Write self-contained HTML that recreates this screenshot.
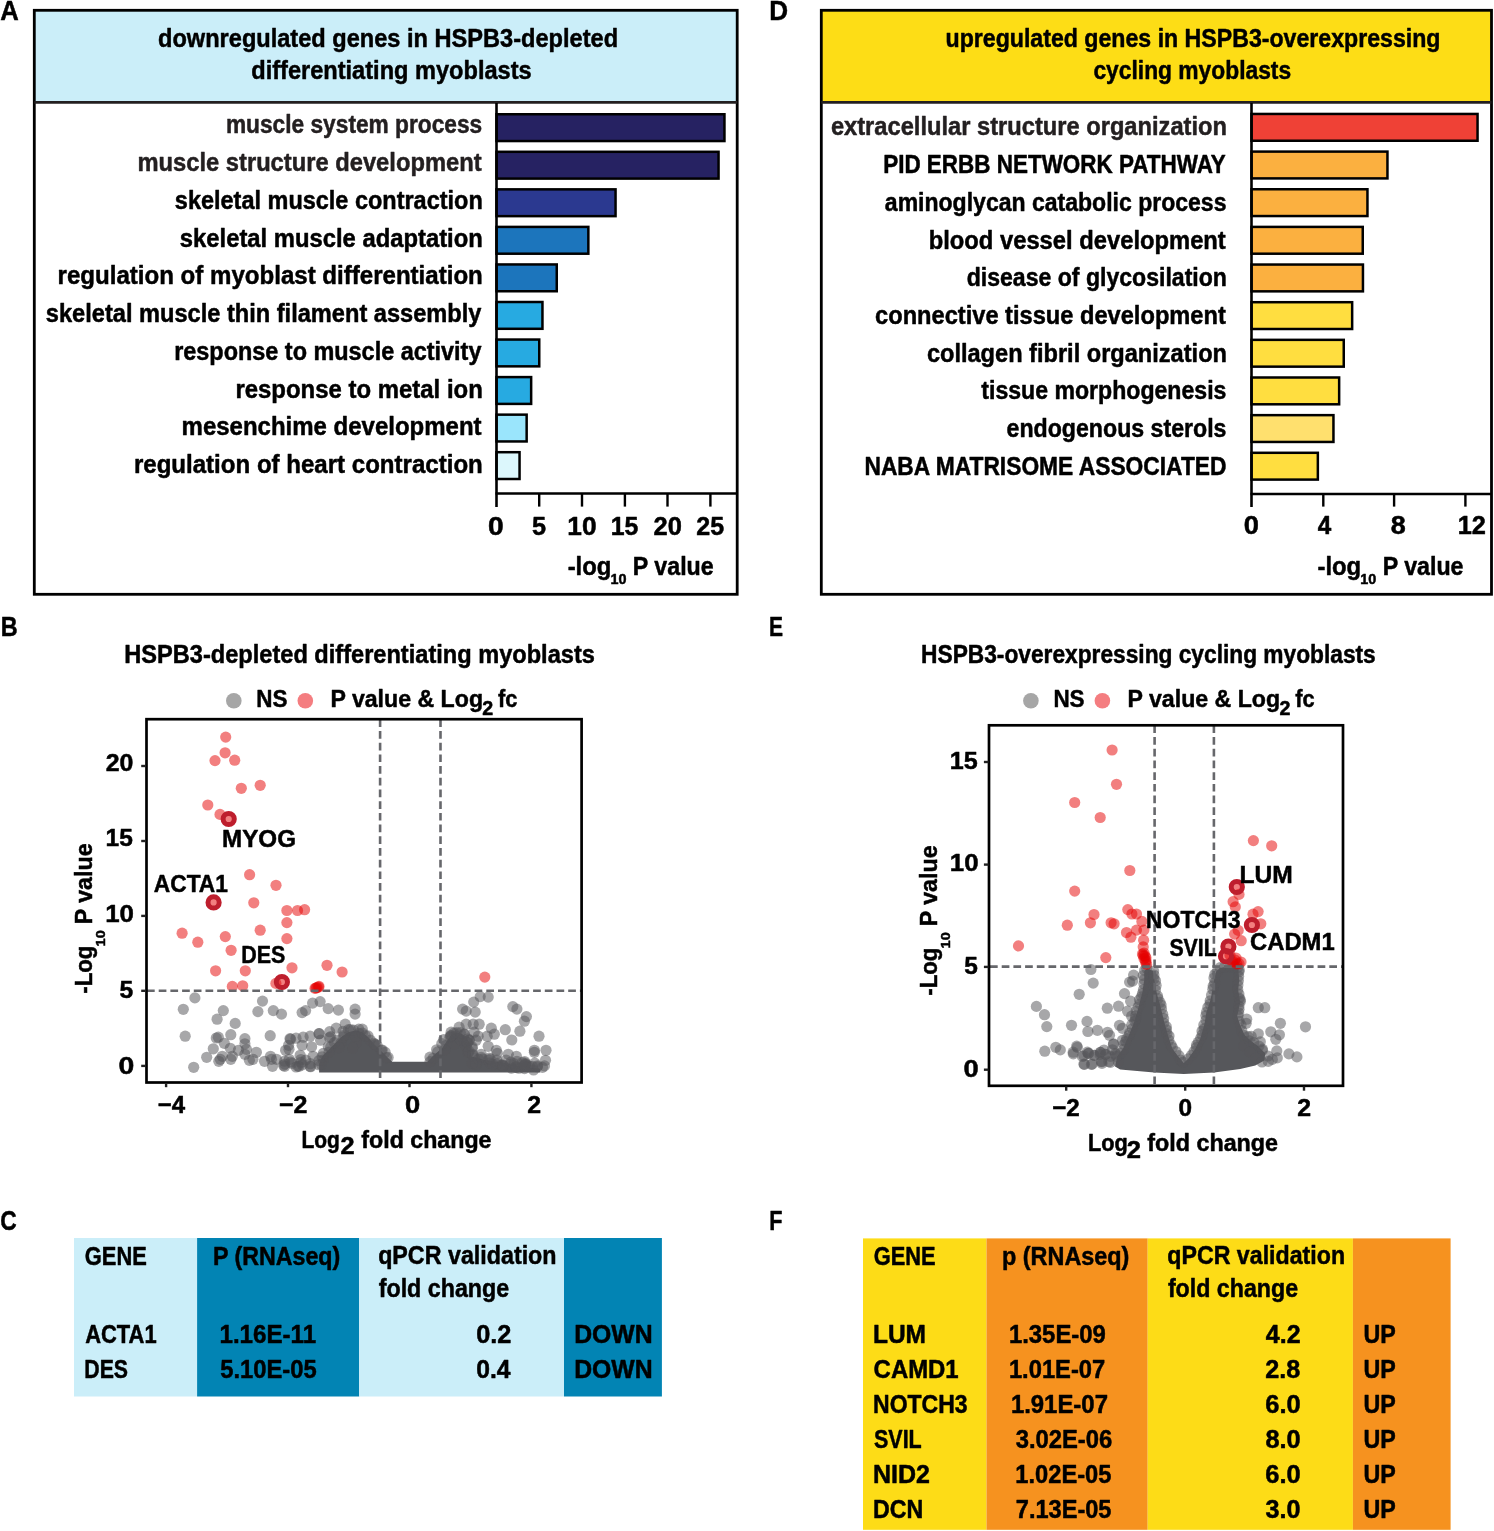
<!DOCTYPE html><html><head><meta charset="utf-8"><style>html,body{margin:0;padding:0;background:#fff;width:1494px;height:1531px;overflow:hidden}svg{display:block;will-change:transform}.t text{font-family:"Liberation Sans",sans-serif;font-weight:bold;stroke:currentColor;stroke-width:0.5px;stroke-linejoin:round}</style></head><body><svg width="1494" height="1531" viewBox="0 0 1494 1531"><rect x="34.3" y="10.3" width="702.9" height="91.9" fill="#CBEEF9"/>
<rect x="820.5" y="10.3" width="671" height="91.9" fill="#FDDD16"/>
<rect x="34.3" y="10.3" width="702.9" height="584" fill="none" stroke="#000" stroke-width="2.8"/>
<line x1="34.3" y1="102.3" x2="737.2" y2="102.3" stroke="#231F20" stroke-width="2.8"/>
<rect x="821.3" y="10.3" width="670.2" height="584" fill="none" stroke="#000" stroke-width="2.8"/>
<line x1="821.3" y1="102.3" x2="1491.5" y2="102.3" stroke="#231F20" stroke-width="2.8"/>
<rect x="496.5" y="114.25" width="227.95" height="26.80" fill="#262262" stroke="#000" stroke-width="2.5"/>
<rect x="496.5" y="151.80" width="222.05" height="26.80" fill="#262262" stroke="#000" stroke-width="2.5"/>
<rect x="496.5" y="189.35" width="119.05" height="26.80" fill="#2B3990" stroke="#000" stroke-width="2.5"/>
<rect x="496.5" y="226.90" width="91.85" height="26.80" fill="#1C75BC" stroke="#000" stroke-width="2.5"/>
<rect x="496.5" y="264.45" width="60.25" height="26.80" fill="#1C75BC" stroke="#000" stroke-width="2.5"/>
<rect x="496.5" y="302.00" width="45.95" height="26.80" fill="#27AAE1" stroke="#000" stroke-width="2.5"/>
<rect x="496.5" y="339.55" width="42.75" height="26.80" fill="#27AAE1" stroke="#000" stroke-width="2.5"/>
<rect x="496.5" y="377.10" width="34.65" height="26.80" fill="#27AAE1" stroke="#000" stroke-width="2.5"/>
<rect x="496.5" y="414.65" width="30.15" height="26.80" fill="#9AE5FC" stroke="#000" stroke-width="2.5"/>
<rect x="496.5" y="452.20" width="23.05" height="26.80" fill="#DCF7FC" stroke="#000" stroke-width="2.5"/>
<rect x="1251.5" y="113.95" width="226.05" height="26.80" fill="#EF4136" stroke="#000" stroke-width="2.5"/>
<rect x="1251.5" y="151.60" width="135.95" height="26.80" fill="#FBB040" stroke="#000" stroke-width="2.5"/>
<rect x="1251.5" y="189.25" width="115.95" height="26.80" fill="#FBB040" stroke="#000" stroke-width="2.5"/>
<rect x="1251.5" y="226.90" width="111.25" height="26.80" fill="#FBB040" stroke="#000" stroke-width="2.5"/>
<rect x="1251.5" y="264.55" width="111.45" height="26.80" fill="#FBB040" stroke="#000" stroke-width="2.5"/>
<rect x="1251.5" y="302.20" width="100.65" height="26.80" fill="#FFDE40" stroke="#000" stroke-width="2.5"/>
<rect x="1251.5" y="339.85" width="92.25" height="26.80" fill="#FFDE40" stroke="#000" stroke-width="2.5"/>
<rect x="1251.5" y="377.50" width="87.65" height="26.80" fill="#FFDE40" stroke="#000" stroke-width="2.5"/>
<rect x="1251.5" y="415.15" width="81.95" height="26.80" fill="#FFE06E" stroke="#000" stroke-width="2.5"/>
<rect x="1251.5" y="452.80" width="66.35" height="26.80" fill="#FFDE40" stroke="#000" stroke-width="2.5"/>
<line x1="496.5" y1="103" x2="496.5" y2="507" stroke="#000" stroke-width="2.6"/>
<line x1="495.5" y1="493.5" x2="737" y2="493.5" stroke="#000" stroke-width="2.6"/>
<line x1="539.2" y1="494" x2="539.2" y2="506.6" stroke="#000" stroke-width="2.4"/>
<line x1="582" y1="494" x2="582" y2="506.6" stroke="#000" stroke-width="2.4"/>
<line x1="624.9" y1="494" x2="624.9" y2="506.6" stroke="#000" stroke-width="2.4"/>
<line x1="667.5" y1="494" x2="667.5" y2="506.6" stroke="#000" stroke-width="2.4"/>
<line x1="710.4" y1="494" x2="710.4" y2="506.6" stroke="#000" stroke-width="2.4"/>
<line x1="1251.5" y1="103" x2="1251.5" y2="507" stroke="#000" stroke-width="2.6"/>
<line x1="1250.5" y1="494" x2="1491" y2="494" stroke="#000" stroke-width="2.6"/>
<line x1="1323.3" y1="494" x2="1323.3" y2="506.6" stroke="#000" stroke-width="2.4"/>
<line x1="1394.1" y1="494" x2="1394.1" y2="506.6" stroke="#000" stroke-width="2.4"/>
<line x1="1465.4" y1="494" x2="1465.4" y2="506.6" stroke="#000" stroke-width="2.4"/>
<circle cx="233.8" cy="700.8" r="7.8" fill="#A6A6A6"/>
<circle cx="305.3" cy="700.8" r="7.8" fill="#F47D80"/>
<circle cx="1030.9" cy="700.8" r="7.8" fill="#A6A6A6"/>
<circle cx="1102.4" cy="700.8" r="7.8" fill="#F47D80"/>
<rect x="74" y="1238" width="123.1" height="158.5" fill="#CBEEF9"/>
<rect x="197.1" y="1238" width="162.1" height="158.5" fill="#0284B4"/>
<rect x="359.2" y="1238" width="204.8" height="158.5" fill="#CBEEF9"/>
<rect x="564" y="1238" width="97.9" height="158.5" fill="#0284B4"/>
<rect x="863" y="1238.4" width="123.5" height="291.4" fill="#FDDC17"/>
<rect x="986.5" y="1238.4" width="161.2" height="291.4" fill="#F6921F"/>
<rect x="1147.7" y="1238.4" width="205.2" height="291.4" fill="#FDDC17"/>
<rect x="1352.9" y="1238.4" width="97.7" height="291.4" fill="#F6921F"/>
<clipPath id="cb"><rect x="147.8" y="720.5" width="432.5" height="360.6"/></clipPath>
<clipPath id="ce"><rect x="990.3" y="726.6" width="351.4" height="357.9"/></clipPath>
<g clip-path="url(#cb)"><polygon points="319.1,1072.4 319.1,1064.3 322.1,1056.3 328.2,1050.3 333.2,1045.3 338.2,1040.2 342.2,1036.2 348.2,1032.2 356.3,1030.2 362.3,1032.2 368.3,1037.2 373.3,1043.3 378.4,1048.3 385.4,1055.3 389.4,1059.3 392.4,1061.8 427.6,1061.8 432.6,1056.3 436.0,1053.3 442.1,1048.3 446.1,1042.2 450.1,1036.2 456.1,1032.2 462.0,1034.0 468.0,1040.0 470.2,1046.0 471.2,1056.3 486.2,1060.3 501.3,1062.3 514.4,1065.3 526.4,1067.3 540.0,1068.4 540.0,1072.4" fill="#56575B"/><g fill="#56575B" fill-opacity="0.52"><circle cx="194.9" cy="997.9" r="5.6"/><circle cx="183.3" cy="1009.3" r="5.6"/><circle cx="185.2" cy="1036.2" r="5.6"/><circle cx="193.7" cy="1067.3" r="5.6"/><circle cx="223.3" cy="1010.6" r="5.6"/><circle cx="217.1" cy="1019.2" r="5.6"/><circle cx="235.2" cy="1023.4" r="5.6"/><circle cx="262.5" cy="1001.1" r="5.6"/><circle cx="257.9" cy="1011.6" r="5.6"/><circle cx="273.3" cy="1010.6" r="5.6"/><circle cx="281.5" cy="1014.1" r="5.6"/><circle cx="270.2" cy="1035.7" r="5.6"/><circle cx="230.8" cy="1034.7" r="5.6"/><circle cx="216.3" cy="1038.0" r="5.6"/><circle cx="218.3" cy="1037.2" r="5.6"/><circle cx="244.9" cy="1038.7" r="5.6"/><circle cx="244.9" cy="1043.8" r="5.6"/><circle cx="224.3" cy="1043.3" r="5.6"/><circle cx="213.3" cy="1048.8" r="5.6"/><circle cx="230.3" cy="1048.3" r="5.6"/><circle cx="238.4" cy="1050.3" r="5.6"/><circle cx="246.4" cy="1049.3" r="5.6"/><circle cx="206.7" cy="1057.3" r="5.6"/><circle cx="222.3" cy="1056.3" r="5.6"/><circle cx="220.3" cy="1059.3" r="5.6"/><circle cx="218.8" cy="1061.3" r="5.6"/><circle cx="230.8" cy="1059.3" r="5.6"/><circle cx="232.3" cy="1056.3" r="5.6"/><circle cx="244.9" cy="1054.3" r="5.6"/><circle cx="256.4" cy="1052.3" r="5.6"/><circle cx="249.4" cy="1060.3" r="5.6"/><circle cx="252.9" cy="1059.3" r="5.6"/><circle cx="264.5" cy="1061.3" r="5.6"/><circle cx="270.5" cy="1056.3" r="5.6"/><circle cx="271.5" cy="1059.3" r="5.6"/><circle cx="272.5" cy="1066.3" r="5.6"/><circle cx="276.5" cy="1059.3" r="5.6"/><circle cx="283.5" cy="1065.3" r="5.6"/><circle cx="285.6" cy="1050.3" r="5.6"/><circle cx="290.6" cy="1039.2" r="5.6"/><circle cx="288.6" cy="1045.3" r="5.6"/><circle cx="312.6" cy="1003.1" r="5.6"/><circle cx="320.1" cy="1001.6" r="5.6"/><circle cx="302.1" cy="1012.6" r="5.6"/><circle cx="305.6" cy="1010.6" r="5.6"/><circle cx="328.2" cy="1008.6" r="5.6"/><circle cx="338.4" cy="1010.1" r="5.6"/><circle cx="355.1" cy="1009.1" r="5.6"/><circle cx="355.1" cy="1014.1" r="5.6"/><circle cx="345.2" cy="1024.2" r="5.6"/><circle cx="336.2" cy="1028.2" r="5.6"/><circle cx="358.8" cy="1029.2" r="5.6"/><circle cx="362.3" cy="1029.2" r="5.6"/><circle cx="319.1" cy="1033.7" r="5.6"/><circle cx="319.1" cy="1033.7" r="5.6"/><circle cx="330.7" cy="1036.7" r="5.6"/><circle cx="310.1" cy="1036.2" r="5.6"/><circle cx="303.1" cy="1037.2" r="5.6"/><circle cx="296.0" cy="1038.2" r="5.6"/><circle cx="290.0" cy="1038.7" r="5.6"/><circle cx="320.6" cy="1040.2" r="5.6"/><circle cx="311.6" cy="1046.8" r="5.6"/><circle cx="302.1" cy="1045.3" r="5.6"/><circle cx="289.0" cy="1049.3" r="5.6"/><circle cx="313.1" cy="1056.3" r="5.6"/><circle cx="300.1" cy="1055.3" r="5.6"/><circle cx="292.0" cy="1063.3" r="5.6"/><circle cx="299.0" cy="1066.3" r="5.6"/><circle cx="310.1" cy="1066.3" r="5.6"/><circle cx="301.1" cy="1062.3" r="5.6"/><circle cx="370.3" cy="1040.2" r="5.6"/><circle cx="381.4" cy="1050.3" r="5.6"/><circle cx="480.2" cy="996.6" r="5.6"/><circle cx="488.2" cy="997.1" r="5.6"/><circle cx="473.7" cy="1002.1" r="5.6"/><circle cx="462.6" cy="1009.1" r="5.6"/><circle cx="466.2" cy="1011.1" r="5.6"/><circle cx="475.2" cy="1012.1" r="5.6"/><circle cx="512.8" cy="1006.6" r="5.6"/><circle cx="516.9" cy="1009.1" r="5.6"/><circle cx="526.4" cy="1016.6" r="5.6"/><circle cx="524.4" cy="1021.2" r="5.6"/><circle cx="505.3" cy="1029.7" r="5.6"/><circle cx="519.9" cy="1031.2" r="5.6"/><circle cx="511.8" cy="1040.0" r="5.6"/><circle cx="539.0" cy="1036.2" r="5.6"/><circle cx="491.3" cy="1028.2" r="5.6"/><circle cx="494.3" cy="1034.2" r="5.6"/><circle cx="487.2" cy="1036.2" r="5.6"/><circle cx="488.2" cy="1046.3" r="5.6"/><circle cx="496.3" cy="1050.3" r="5.6"/><circle cx="497.3" cy="1053.3" r="5.6"/><circle cx="534.4" cy="1050.3" r="5.6"/><circle cx="534.4" cy="1052.3" r="5.6"/><circle cx="546.0" cy="1050.3" r="5.6"/><circle cx="508.3" cy="1054.3" r="5.6"/><circle cx="516.4" cy="1056.3" r="5.6"/><circle cx="545.5" cy="1060.3" r="5.6"/><circle cx="481.2" cy="1054.3" r="5.6"/><circle cx="481.2" cy="1057.3" r="5.6"/><circle cx="525.4" cy="1064.3" r="5.6"/><circle cx="532.4" cy="1066.3" r="5.6"/><circle cx="542.5" cy="1067.3" r="5.6"/><circle cx="516.4" cy="1067.3" r="5.6"/><circle cx="459.1" cy="1027.2" r="5.6"/><circle cx="466.2" cy="1024.2" r="5.6"/><circle cx="473.2" cy="1024.2" r="5.6"/><circle cx="479.2" cy="1024.2" r="5.6"/><circle cx="451.1" cy="1032.2" r="5.6"/><circle cx="456.1" cy="1036.2" r="5.6"/><circle cx="464.2" cy="1034.2" r="5.6"/><circle cx="474.2" cy="1032.2" r="5.6"/><circle cx="478.2" cy="1036.2" r="5.6"/><circle cx="461.1" cy="1040.2" r="5.6"/><circle cx="469.2" cy="1040.2" r="5.6"/><circle cx="476.2" cy="1040.2" r="5.6"/><circle cx="446.1" cy="1045.3" r="5.6"/><circle cx="454.1" cy="1044.3" r="5.6"/><circle cx="466.2" cy="1046.3" r="5.6"/><circle cx="472.2" cy="1048.3" r="5.6"/><circle cx="464.2" cy="1034.2" r="5.6"/><circle cx="466.2" cy="1046.3" r="5.6"/><circle cx="461.1" cy="1040.2" r="5.6"/><circle cx="469.2" cy="1040.2" r="5.6"/><circle cx="318.8" cy="1064.7" r="5.6"/><circle cx="323.1" cy="1060.1" r="5.6"/><circle cx="322.1" cy="1056.8" r="5.6"/><circle cx="323.3" cy="1053.4" r="5.6"/><circle cx="329.0" cy="1052.1" r="5.6"/><circle cx="328.3" cy="1046.6" r="5.6"/><circle cx="330.7" cy="1047.2" r="5.6"/><circle cx="336.9" cy="1040.0" r="5.6"/><circle cx="341.1" cy="1043.0" r="5.6"/><circle cx="343.1" cy="1036.9" r="5.6"/><circle cx="343.1" cy="1031.3" r="5.6"/><circle cx="348.4" cy="1029.6" r="5.6"/><circle cx="350.4" cy="1029.7" r="5.6"/><circle cx="353.5" cy="1030.0" r="5.6"/><circle cx="358.9" cy="1033.3" r="5.6"/><circle cx="362.4" cy="1033.0" r="5.6"/><circle cx="365.3" cy="1035.7" r="5.6"/><circle cx="368.0" cy="1035.9" r="5.6"/><circle cx="373.8" cy="1043.2" r="5.6"/><circle cx="375.3" cy="1044.5" r="5.6"/><circle cx="374.7" cy="1044.2" r="5.6"/><circle cx="377.1" cy="1045.7" r="5.6"/><circle cx="382.3" cy="1050.0" r="5.6"/><circle cx="385.1" cy="1052.3" r="5.6"/><circle cx="388.1" cy="1057.4" r="5.6"/><circle cx="386.4" cy="1057.6" r="5.6"/><circle cx="430.1" cy="1061.6" r="5.6"/><circle cx="433.0" cy="1058.4" r="5.6"/><circle cx="430.0" cy="1057.1" r="5.6"/><circle cx="437.7" cy="1051.9" r="5.6"/><circle cx="436.6" cy="1049.8" r="5.6"/><circle cx="444.9" cy="1049.8" r="5.6"/><circle cx="441.8" cy="1043.7" r="5.6"/><circle cx="443.7" cy="1039.6" r="5.6"/><circle cx="449.9" cy="1037.3" r="5.6"/><circle cx="450.5" cy="1035.9" r="5.6"/><circle cx="451.2" cy="1035.6" r="5.6"/><circle cx="453.9" cy="1033.1" r="5.6"/><circle cx="456.7" cy="1032.6" r="5.6"/><circle cx="460.3" cy="1032.6" r="5.6"/><circle cx="467.8" cy="1038.8" r="5.6"/><circle cx="466.8" cy="1042.3" r="5.6"/><circle cx="467.4" cy="1042.4" r="5.6"/><circle cx="472.3" cy="1046.9" r="5.6"/><circle cx="468.1" cy="1052.4" r="5.6"/><circle cx="469.1" cy="1051.4" r="5.6"/><circle cx="472.8" cy="1055.3" r="5.6"/><circle cx="473.0" cy="1054.5" r="5.6"/><circle cx="474.7" cy="1058.4" r="5.6"/><circle cx="478.7" cy="1059.3" r="5.6"/><circle cx="482.4" cy="1059.2" r="5.6"/><circle cx="489.0" cy="1060.2" r="5.6"/><circle cx="489.7" cy="1062.9" r="5.6"/><circle cx="490.3" cy="1059.0" r="5.6"/><circle cx="497.7" cy="1063.4" r="5.6"/><circle cx="496.8" cy="1060.0" r="5.6"/><circle cx="502.7" cy="1064.9" r="5.6"/><circle cx="502.8" cy="1065.8" r="5.6"/><circle cx="510.1" cy="1064.4" r="5.6"/><circle cx="510.7" cy="1062.2" r="5.6"/><circle cx="511.6" cy="1068.1" r="5.6"/><circle cx="515.8" cy="1067.0" r="5.6"/><circle cx="518.9" cy="1068.2" r="5.6"/><circle cx="524.0" cy="1065.6" r="5.6"/><circle cx="524.5" cy="1068.6" r="5.6"/><circle cx="527.2" cy="1065.9" r="5.6"/><circle cx="533.6" cy="1070.0" r="5.6"/><circle cx="537.3" cy="1066.8" r="5.6"/><circle cx="318.9" cy="1060.6" r="5.6"/><circle cx="284.6" cy="1061.2" r="5.6"/><circle cx="300.9" cy="1059.5" r="5.6"/><circle cx="290.7" cy="1062.0" r="5.6"/><circle cx="305.7" cy="1060.1" r="5.6"/><circle cx="297.8" cy="1066.1" r="5.6"/><circle cx="321.3" cy="1064.3" r="5.6"/><circle cx="310.3" cy="1063.7" r="5.6"/><circle cx="289.3" cy="1059.3" r="5.6"/><circle cx="284.7" cy="1066.3" r="5.6"/><circle cx="310.6" cy="1066.7" r="5.6"/><circle cx="284.8" cy="1064.1" r="5.6"/><circle cx="302.3" cy="1064.8" r="5.6"/><circle cx="296.1" cy="1067.0" r="5.6"/><circle cx="475.6" cy="1062.9" r="5.6"/><circle cx="525.3" cy="1066.1" r="5.6"/><circle cx="525.3" cy="1064.3" r="5.6"/><circle cx="529.5" cy="1066.2" r="5.6"/><circle cx="496.4" cy="1064.2" r="5.6"/><circle cx="537.6" cy="1065.8" r="5.6"/><circle cx="501.3" cy="1065.1" r="5.6"/><circle cx="534.8" cy="1063.2" r="5.6"/><circle cx="516.9" cy="1061.4" r="5.6"/><circle cx="513.7" cy="1063.5" r="5.6"/><circle cx="476.0" cy="1063.8" r="5.6"/><circle cx="544.5" cy="1065.9" r="5.6"/><circle cx="524.6" cy="1061.5" r="5.6"/><circle cx="525.1" cy="1063.2" r="5.6"/><circle cx="503.0" cy="1065.5" r="5.6"/><circle cx="476.3" cy="1064.8" r="5.6"/><circle cx="472.2" cy="1063.4" r="5.6"/><circle cx="506.1" cy="1060.1" r="5.6"/><circle cx="522.4" cy="1062.5" r="5.6"/><circle cx="516.1" cy="1066.3" r="5.6"/><circle cx="489.2" cy="1058.1" r="5.6"/><circle cx="492.6" cy="1064.1" r="5.6"/><circle cx="329.7" cy="1031.7" r="5.6"/><circle cx="356.4" cy="1042.5" r="5.6"/><circle cx="338.8" cy="1047.6" r="5.6"/><circle cx="334.4" cy="1042.6" r="5.6"/><circle cx="329.5" cy="1037.5" r="5.6"/><circle cx="352.6" cy="1048.1" r="5.6"/><circle cx="355.5" cy="1036.5" r="5.6"/><circle cx="344.2" cy="1035.0" r="5.6"/></g></g>
<g clip-path="url(#ce)"><polygon points="1115.1,1066.4 1117.1,1056.4 1123.1,1048.4 1130.1,1032.3 1134.1,1022.2 1138.2,1008.2 1142.2,993.1 1144.2,980.1 1144.2,971.0 1147.2,968.5 1153.2,971.0 1155.2,985.1 1157.2,995.1 1160.2,1005.2 1164.3,1022.2 1168.3,1036.3 1172.3,1048.4 1178.3,1056.4 1183.8,1062.9 1188.4,1058.4 1195.4,1048.4 1200.4,1038.3 1204.4,1024.3 1206.4,1012.2 1210.4,1000.2 1212.4,990.1 1214.5,978.1 1216.5,971.0 1220.1,968.0 1225.1,967.0 1238.2,968.0 1239.2,980.1 1238.2,990.1 1240.2,1002.2 1237.2,1016.2 1240.2,1025.3 1244.2,1034.3 1250.2,1040.3 1258.3,1046.3 1265.3,1053.4 1264.3,1060.4 1255.3,1065.4 1240.2,1068.9 1214.1,1072.4 1183.8,1074.0 1154.2,1072.4 1120.1,1069.4" fill="#56575B"/><g fill="#56575B" fill-opacity="0.52"><circle cx="1090.9" cy="969.5" r="5.6"/><circle cx="1093.2" cy="983.1" r="5.6"/><circle cx="1079.2" cy="994.3" r="5.6"/><circle cx="1036.4" cy="1006.4" r="5.6"/><circle cx="1044.5" cy="1014.7" r="5.6"/><circle cx="1046.8" cy="1026.6" r="5.6"/><circle cx="1071.5" cy="1025.3" r="5.6"/><circle cx="1087.0" cy="1021.4" r="5.6"/><circle cx="1087.9" cy="1031.5" r="5.6"/><circle cx="1097.4" cy="1030.3" r="5.6"/><circle cx="1107.3" cy="1008.2" r="5.6"/><circle cx="1118.5" cy="1006.2" r="5.6"/><circle cx="1124.5" cy="993.6" r="5.6"/><circle cx="1133.6" cy="975.1" r="5.6"/><circle cx="1129.6" cy="982.1" r="5.6"/><circle cx="1132.6" cy="981.1" r="5.6"/><circle cx="1130.6" cy="1001.2" r="5.6"/><circle cx="1127.6" cy="1011.2" r="5.6"/><circle cx="1131.6" cy="1016.2" r="5.6"/><circle cx="1107.5" cy="1032.3" r="5.6"/><circle cx="1109.5" cy="1035.3" r="5.6"/><circle cx="1119.5" cy="1025.3" r="5.6"/><circle cx="1122.5" cy="1028.3" r="5.6"/><circle cx="1122.5" cy="1040.3" r="5.6"/><circle cx="1113.5" cy="1044.3" r="5.6"/><circle cx="1044.8" cy="1051.2" r="5.6"/><circle cx="1055.8" cy="1047.3" r="5.6"/><circle cx="1060.3" cy="1049.9" r="5.6"/><circle cx="1073.3" cy="1053.9" r="5.6"/><circle cx="1077.3" cy="1047.3" r="5.6"/><circle cx="1084.4" cy="1064.4" r="5.6"/><circle cx="1091.4" cy="1064.4" r="5.6"/><circle cx="1082.4" cy="1056.4" r="5.6"/><circle cx="1088.4" cy="1053.4" r="5.6"/><circle cx="1094.4" cy="1055.4" r="5.6"/><circle cx="1100.4" cy="1052.4" r="5.6"/><circle cx="1105.5" cy="1054.4" r="5.6"/><circle cx="1110.5" cy="1056.4" r="5.6"/><circle cx="1115.5" cy="1053.4" r="5.6"/><circle cx="1101.4" cy="1061.4" r="5.6"/><circle cx="1110.5" cy="1062.4" r="5.6"/><circle cx="1100.0" cy="1054.4" r="5.6"/><circle cx="1104.0" cy="1050.0" r="5.6"/><circle cx="1102.0" cy="1063.4" r="5.6"/><circle cx="1073.2" cy="1052.2" r="5.6"/><circle cx="1076.7" cy="1046.2" r="5.6"/><circle cx="1083.9" cy="1055.8" r="5.6"/><circle cx="1087.4" cy="1052.2" r="5.6"/><circle cx="1092.2" cy="1064.1" r="5.6"/><circle cx="1083.9" cy="1064.1" r="5.6"/><circle cx="1101.7" cy="1061.7" r="5.6"/><circle cx="1108.8" cy="1061.7" r="5.6"/><circle cx="1112.4" cy="1049.8" r="5.6"/><circle cx="1116.0" cy="1054.6" r="5.6"/><circle cx="1118.3" cy="1061.7" r="5.6"/><circle cx="1113.6" cy="1043.9" r="5.6"/><circle cx="1088.4" cy="1053.4" r="5.6"/><circle cx="1094.4" cy="1055.4" r="5.6"/><circle cx="1100.4" cy="1052.4" r="5.6"/><circle cx="1105.5" cy="1054.4" r="5.6"/><circle cx="1258.3" cy="1007.7" r="5.6"/><circle cx="1264.8" cy="1007.7" r="5.6"/><circle cx="1246.7" cy="1019.2" r="5.6"/><circle cx="1246.2" cy="1023.3" r="5.6"/><circle cx="1280.4" cy="1023.3" r="5.6"/><circle cx="1305.5" cy="1026.8" r="5.6"/><circle cx="1270.8" cy="1031.8" r="5.6"/><circle cx="1279.4" cy="1034.8" r="5.6"/><circle cx="1275.8" cy="1039.3" r="5.6"/><circle cx="1258.3" cy="1033.8" r="5.6"/><circle cx="1260.3" cy="1041.8" r="5.6"/><circle cx="1251.2" cy="1036.3" r="5.6"/><circle cx="1288.9" cy="1053.9" r="5.6"/><circle cx="1296.9" cy="1056.9" r="5.6"/><circle cx="1276.8" cy="1050.9" r="5.6"/><circle cx="1277.3" cy="1057.9" r="5.6"/><circle cx="1268.3" cy="1061.4" r="5.6"/><circle cx="1272.3" cy="1059.4" r="5.6"/><circle cx="1262.3" cy="1050.4" r="5.6"/><circle cx="1240.2" cy="999.7" r="5.6"/><circle cx="1239.2" cy="970.0" r="5.6"/><circle cx="1244.0" cy="1046.0" r="5.6"/><circle cx="1250.0" cy="1052.0" r="5.6"/><circle cx="1256.0" cy="1058.0" r="5.6"/><circle cx="1262.0" cy="1062.0" r="5.6"/><circle cx="1268.0" cy="1056.0" r="5.6"/><circle cx="1116.4" cy="1056.4" r="5.6"/><circle cx="1120.8" cy="1053.1" r="5.6"/><circle cx="1123.5" cy="1049.3" r="5.6"/><circle cx="1124.1" cy="1044.5" r="5.6"/><circle cx="1125.8" cy="1041.5" r="5.6"/><circle cx="1126.7" cy="1038.6" r="5.6"/><circle cx="1129.0" cy="1035.5" r="5.6"/><circle cx="1129.7" cy="1033.0" r="5.6"/><circle cx="1132.4" cy="1028.8" r="5.6"/><circle cx="1131.9" cy="1024.6" r="5.6"/><circle cx="1134.8" cy="1021.3" r="5.6"/><circle cx="1135.5" cy="1018.8" r="5.6"/><circle cx="1135.8" cy="1015.8" r="5.6"/><circle cx="1136.2" cy="1011.0" r="5.6"/><circle cx="1138.1" cy="1007.2" r="5.6"/><circle cx="1139.9" cy="1003.9" r="5.6"/><circle cx="1139.5" cy="999.7" r="5.6"/><circle cx="1141.5" cy="996.8" r="5.6"/><circle cx="1142.5" cy="993.4" r="5.6"/><circle cx="1143.5" cy="989.7" r="5.6"/><circle cx="1143.9" cy="983.8" r="5.6"/><circle cx="1144.2" cy="979.5" r="5.6"/><circle cx="1143.2" cy="975.5" r="5.6"/><circle cx="1144.6" cy="970.4" r="5.6"/><circle cx="1146.7" cy="968.2" r="5.6"/><circle cx="1153.6" cy="971.0" r="5.6"/><circle cx="1153.9" cy="975.0" r="5.6"/><circle cx="1154.0" cy="978.6" r="5.6"/><circle cx="1155.5" cy="980.7" r="5.6"/><circle cx="1156.1" cy="985.5" r="5.6"/><circle cx="1155.5" cy="990.0" r="5.6"/><circle cx="1157.5" cy="995.9" r="5.6"/><circle cx="1158.0" cy="998.6" r="5.6"/><circle cx="1160.0" cy="1002.4" r="5.6"/><circle cx="1161.1" cy="1005.1" r="5.6"/><circle cx="1161.5" cy="1008.9" r="5.6"/><circle cx="1162.7" cy="1014.3" r="5.6"/><circle cx="1163.6" cy="1018.4" r="5.6"/><circle cx="1163.7" cy="1023.0" r="5.6"/><circle cx="1166.3" cy="1026.7" r="5.6"/><circle cx="1166.4" cy="1029.8" r="5.6"/><circle cx="1166.9" cy="1033.6" r="5.6"/><circle cx="1169.0" cy="1036.0" r="5.6"/><circle cx="1168.8" cy="1040.2" r="5.6"/><circle cx="1171.1" cy="1044.9" r="5.6"/><circle cx="1172.3" cy="1047.5" r="5.6"/><circle cx="1175.9" cy="1051.5" r="5.6"/><circle cx="1178.9" cy="1055.7" r="5.6"/><circle cx="1180.7" cy="1060.2" r="5.6"/><circle cx="1183.1" cy="1062.2" r="5.6"/><circle cx="1188.4" cy="1058.8" r="5.6"/><circle cx="1191.4" cy="1055.4" r="5.6"/><circle cx="1194.0" cy="1051.7" r="5.6"/><circle cx="1196.3" cy="1047.6" r="5.6"/><circle cx="1196.5" cy="1045.1" r="5.6"/><circle cx="1198.3" cy="1042.1" r="5.6"/><circle cx="1200.7" cy="1038.3" r="5.6"/><circle cx="1202.1" cy="1034.9" r="5.6"/><circle cx="1202.0" cy="1031.1" r="5.6"/><circle cx="1204.1" cy="1028.6" r="5.6"/><circle cx="1203.8" cy="1025.0" r="5.6"/><circle cx="1206.0" cy="1020.3" r="5.6"/><circle cx="1205.9" cy="1015.6" r="5.6"/><circle cx="1206.5" cy="1012.2" r="5.6"/><circle cx="1207.9" cy="1007.3" r="5.6"/><circle cx="1210.0" cy="1004.2" r="5.6"/><circle cx="1210.2" cy="1000.8" r="5.6"/><circle cx="1211.5" cy="995.1" r="5.6"/><circle cx="1212.8" cy="989.2" r="5.6"/><circle cx="1213.2" cy="985.9" r="5.6"/><circle cx="1214.7" cy="982.9" r="5.6"/><circle cx="1214.0" cy="978.0" r="5.6"/><circle cx="1214.8" cy="974.4" r="5.6"/><circle cx="1217.1" cy="971.8" r="5.6"/><circle cx="1220.1" cy="967.6" r="5.6"/><circle cx="1224.5" cy="967.2" r="5.6"/><circle cx="1230.3" cy="966.6" r="5.6"/><circle cx="1234.4" cy="966.7" r="5.6"/><circle cx="1237.6" cy="967.5" r="5.6"/><circle cx="1238.9" cy="971.7" r="5.6"/><circle cx="1238.6" cy="976.3" r="5.6"/><circle cx="1238.4" cy="980.6" r="5.6"/><circle cx="1237.9" cy="985.1" r="5.6"/><circle cx="1237.7" cy="989.5" r="5.6"/><circle cx="1238.9" cy="994.0" r="5.6"/><circle cx="1239.3" cy="998.0" r="5.6"/><circle cx="1240.3" cy="1001.5" r="5.6"/><circle cx="1238.9" cy="1006.0" r="5.6"/><circle cx="1239.0" cy="1009.3" r="5.6"/><circle cx="1238.7" cy="1012.9" r="5.6"/><circle cx="1237.9" cy="1015.7" r="5.6"/><circle cx="1239.2" cy="1021.4" r="5.6"/><circle cx="1241.0" cy="1024.9" r="5.6"/><circle cx="1241.8" cy="1030.6" r="5.6"/><circle cx="1243.6" cy="1035.3" r="5.6"/><circle cx="1248.0" cy="1036.6" r="5.6"/><circle cx="1249.7" cy="1040.8" r="5.6"/><circle cx="1253.8" cy="1042.5" r="5.6"/><circle cx="1259.0" cy="1046.1" r="5.6"/><circle cx="1262.4" cy="1049.1" r="5.6"/></g></g>
<g fill="#E60000" fill-opacity="0.5"><circle cx="225.7" cy="737.1" r="5.6"/><circle cx="225.1" cy="752.8" r="5.6"/><circle cx="215.0" cy="760.6" r="5.6"/><circle cx="234.7" cy="760.2" r="5.6"/><circle cx="241.3" cy="788.3" r="5.6"/><circle cx="260.2" cy="785.3" r="5.6"/><circle cx="207.8" cy="805.0" r="5.6"/><circle cx="220.0" cy="814.4" r="5.6"/><circle cx="228.7" cy="819.0" r="5.6"/><circle cx="249.6" cy="874.7" r="5.6"/><circle cx="276.0" cy="885.3" r="5.6"/><circle cx="213.6" cy="902.4" r="5.6"/><circle cx="253.8" cy="902.8" r="5.6"/><circle cx="286.9" cy="910.5" r="5.6"/><circle cx="297.5" cy="910.5" r="5.6"/><circle cx="304.6" cy="909.7" r="5.6"/><circle cx="286.9" cy="922.6" r="5.6"/><circle cx="260.2" cy="930.2" r="5.6"/><circle cx="182.1" cy="933.2" r="5.6"/><circle cx="197.8" cy="942.2" r="5.6"/><circle cx="225.3" cy="936.6" r="5.6"/><circle cx="286.9" cy="938.6" r="5.6"/><circle cx="231.1" cy="950.3" r="5.6"/><circle cx="292.0" cy="967.8" r="5.6"/><circle cx="215.6" cy="970.8" r="5.6"/><circle cx="245.3" cy="970.8" r="5.6"/><circle cx="327.0" cy="965.3" r="5.6"/><circle cx="342.1" cy="972.0" r="5.6"/><circle cx="232.3" cy="986.4" r="5.6"/><circle cx="242.7" cy="985.8" r="5.6"/><circle cx="281.9" cy="982.0" r="5.6"/><circle cx="275.9" cy="983.4" r="5.6"/><circle cx="315.0" cy="988.4" r="5.6"/><circle cx="319.0" cy="986.4" r="5.6"/><circle cx="317.0" cy="987.5" r="5.6"/><circle cx="316.0" cy="988.0" r="5.6"/><circle cx="318.5" cy="987.0" r="5.6"/><circle cx="484.8" cy="977.1" r="5.6"/></g>
<g fill="#E60000" fill-opacity="0.5"><circle cx="1112.1" cy="750.0" r="5.6"/><circle cx="1116.5" cy="784.3" r="5.6"/><circle cx="1074.7" cy="802.5" r="5.6"/><circle cx="1100.2" cy="817.5" r="5.6"/><circle cx="1129.8" cy="870.5" r="5.6"/><circle cx="1074.7" cy="891.1" r="5.6"/><circle cx="1253.4" cy="840.6" r="5.6"/><circle cx="1271.7" cy="845.8" r="5.6"/><circle cx="1018.5" cy="945.9" r="5.6"/><circle cx="1067.3" cy="925.2" r="5.6"/><circle cx="1094.0" cy="914.5" r="5.6"/><circle cx="1090.4" cy="922.8" r="5.6"/><circle cx="1111.1" cy="922.8" r="5.6"/><circle cx="1114.1" cy="923.8" r="5.6"/><circle cx="1127.8" cy="909.6" r="5.6"/><circle cx="1131.9" cy="914.0" r="5.6"/><circle cx="1136.5" cy="914.0" r="5.6"/><circle cx="1141.9" cy="921.4" r="5.6"/><circle cx="1126.5" cy="932.5" r="5.6"/><circle cx="1130.9" cy="937.2" r="5.6"/><circle cx="1136.5" cy="930.1" r="5.6"/><circle cx="1143.9" cy="930.1" r="5.6"/><circle cx="1143.6" cy="940.2" r="5.6"/><circle cx="1143.2" cy="946.9" r="5.6"/><circle cx="1143.2" cy="955.6" r="5.6"/><circle cx="1145.9" cy="957.6" r="5.6"/><circle cx="1144.0" cy="953.0" r="5.6"/><circle cx="1146.6" cy="964.3" r="5.6"/><circle cx="1142.5" cy="954.0" r="5.6"/><circle cx="1145.0" cy="956.0" r="5.6"/><circle cx="1144.0" cy="958.5" r="5.6"/><circle cx="1146.0" cy="960.5" r="5.6"/><circle cx="1145.5" cy="962.0" r="5.6"/><circle cx="1105.8" cy="957.6" r="5.6"/><circle cx="1239.0" cy="894.4" r="5.6"/><circle cx="1233.1" cy="901.7" r="5.6"/><circle cx="1235.3" cy="906.9" r="5.6"/><circle cx="1253.0" cy="914.2" r="5.6"/><circle cx="1258.1" cy="911.6" r="5.6"/><circle cx="1260.8" cy="923.8" r="5.6"/><circle cx="1238.2" cy="930.4" r="5.6"/><circle cx="1234.6" cy="934.1" r="5.6"/><circle cx="1241.2" cy="940.7" r="5.6"/><circle cx="1233.0" cy="961.4" r="5.6"/><circle cx="1239.0" cy="963.6" r="5.6"/><circle cx="1236.0" cy="958.0" r="5.6"/><circle cx="1230.0" cy="955.0" r="5.6"/><circle cx="1232.0" cy="962.0" r="5.6"/><circle cx="1237.0" cy="964.0" r="5.6"/><circle cx="1241.0" cy="962.0" r="5.6"/><circle cx="1235.0" cy="960.0" r="5.6"/><circle cx="1236.8" cy="887.0" r="5.6"/><circle cx="1251.9" cy="925.0" r="5.6"/><circle cx="1228.4" cy="946.6" r="5.6"/><circle cx="1226.0" cy="956.2" r="5.6"/></g>
<line x1="380.1" y1="719.3" x2="380.1" y2="1082" stroke="#66676B" stroke-width="2.6" stroke-dasharray="7.7 4"/>
<line x1="440.5" y1="719.3" x2="440.5" y2="1082" stroke="#66676B" stroke-width="2.6" stroke-dasharray="7.7 4"/>
<line x1="147" y1="990.8" x2="581" y2="990.8" stroke="#66676B" stroke-width="2.6" stroke-dasharray="7.7 4"/>
<rect x="146.5" y="719.2" width="435.1" height="363.3" fill="none" stroke="#000" stroke-width="2.7"/>
<line x1="141.2" y1="1065.9" x2="146" y2="1065.9" stroke="#222" stroke-width="2.4"/>
<line x1="141.2" y1="990.8" x2="146" y2="990.8" stroke="#222" stroke-width="2.4"/>
<line x1="141.2" y1="915.9" x2="146" y2="915.9" stroke="#222" stroke-width="2.4"/>
<line x1="141.2" y1="841" x2="146" y2="841" stroke="#222" stroke-width="2.4"/>
<line x1="141.2" y1="766" x2="146" y2="766" stroke="#222" stroke-width="2.4"/>
<line x1="166.1" y1="1083" x2="166.1" y2="1087.2" stroke="#222" stroke-width="2.4"/>
<line x1="288" y1="1083" x2="288" y2="1087.2" stroke="#222" stroke-width="2.4"/>
<line x1="409.5" y1="1083" x2="409.5" y2="1087.2" stroke="#222" stroke-width="2.4"/>
<line x1="531.4" y1="1083" x2="531.4" y2="1087.2" stroke="#222" stroke-width="2.4"/>
<line x1="1154.6" y1="725.4" x2="1154.6" y2="1085.5" stroke="#66676B" stroke-width="2.6" stroke-dasharray="7.7 4"/>
<line x1="1213.9" y1="725.4" x2="1213.9" y2="1085.5" stroke="#66676B" stroke-width="2.6" stroke-dasharray="7.7 4"/>
<line x1="990" y1="966.6" x2="1342.5" y2="966.6" stroke="#66676B" stroke-width="2.6" stroke-dasharray="7.7 4"/>
<rect x="989" y="725.3" width="354" height="360.5" fill="none" stroke="#000" stroke-width="2.7"/>
<line x1="983.9" y1="1069.7" x2="988.5" y2="1069.7" stroke="#222" stroke-width="2.4"/>
<line x1="983.9" y1="966.9" x2="988.5" y2="966.9" stroke="#222" stroke-width="2.4"/>
<line x1="983.9" y1="864.6" x2="988.5" y2="864.6" stroke="#222" stroke-width="2.4"/>
<line x1="983.9" y1="762" x2="988.5" y2="762" stroke="#222" stroke-width="2.4"/>
<line x1="1066.2" y1="1086.5" x2="1066.2" y2="1090.7" stroke="#222" stroke-width="2.4"/>
<line x1="1185.2" y1="1086.5" x2="1185.2" y2="1090.7" stroke="#222" stroke-width="2.4"/>
<line x1="1304" y1="1086.5" x2="1304" y2="1090.7" stroke="#222" stroke-width="2.4"/>
<circle cx="228.7" cy="819" r="5.6" fill="none" stroke="#BE1E2D" stroke-width="5"/>
<circle cx="213.6" cy="902.4" r="5.6" fill="none" stroke="#BE1E2D" stroke-width="5"/>
<circle cx="281.9" cy="982" r="5.6" fill="none" stroke="#BE1E2D" stroke-width="5"/>
<circle cx="1236.8" cy="887" r="5.6" fill="none" stroke="#BE1E2D" stroke-width="5"/>
<circle cx="1251.9" cy="925" r="5.6" fill="none" stroke="#BE1E2D" stroke-width="5"/>
<circle cx="1228.4" cy="946.6" r="5.6" fill="none" stroke="#BE1E2D" stroke-width="5"/>
<circle cx="1226" cy="956.2" r="5.6" fill="none" stroke="#BE1E2D" stroke-width="5"/>
<g class="t"><text x="0.16" y="20.00" font-size="27.5" fill="#000" color="#000" textLength="18.51" lengthAdjust="spacingAndGlyphs">A</text>
<text x="769.26" y="19.80" font-size="27.5" fill="#000" color="#000" textLength="18.84" lengthAdjust="spacingAndGlyphs">D</text>
<text x="0.63" y="636.00" font-size="27.5" fill="#000" color="#000" textLength="16.93" lengthAdjust="spacingAndGlyphs">B</text>
<text x="768.89" y="635.90" font-size="27.5" fill="#000" color="#000" textLength="14.03" lengthAdjust="spacingAndGlyphs">E</text>
<text x="0.27" y="1230.00" font-size="27.5" fill="#000" color="#000" textLength="16.46" lengthAdjust="spacingAndGlyphs">C</text>
<text x="769.15" y="1230.00" font-size="27.5" fill="#000" color="#000" textLength="13.24" lengthAdjust="spacingAndGlyphs">F</text>
<text x="158.03" y="47.30" font-size="25.5" fill="#000" color="#000" textLength="460.02" lengthAdjust="spacingAndGlyphs">downregulated genes in HSPB3-depleted</text>
<text x="251.23" y="79.40" font-size="25.5" fill="#000" color="#000" textLength="280.43" lengthAdjust="spacingAndGlyphs">differentiating myoblasts</text>
<text x="945.57" y="47.30" font-size="25.5" fill="#000" color="#000" textLength="494.88" lengthAdjust="spacingAndGlyphs">upregulated genes in HSPB3-overexpressing</text>
<text x="1093.41" y="79.40" font-size="25.5" fill="#000" color="#000" textLength="197.73" lengthAdjust="spacingAndGlyphs">cycling myoblasts</text>
<text x="225.90" y="133.40" font-size="25" fill="#231F20" color="#231F20" textLength="256.33" lengthAdjust="spacingAndGlyphs">muscle system process</text>
<text x="137.44" y="171.14" font-size="25" fill="#231F20" color="#231F20" textLength="344.15" lengthAdjust="spacingAndGlyphs">muscle structure development</text>
<text x="174.87" y="208.88" font-size="25" fill="#000" color="#000" textLength="307.88" lengthAdjust="spacingAndGlyphs">skeletal muscle contraction</text>
<text x="179.86" y="246.62" font-size="25" fill="#000" color="#000" textLength="302.91" lengthAdjust="spacingAndGlyphs">skeletal muscle adaptation</text>
<text x="57.61" y="284.36" font-size="25" fill="#000" color="#000" textLength="425.18" lengthAdjust="spacingAndGlyphs">regulation of myoblast differentiation</text>
<text x="45.87" y="322.10" font-size="25" fill="#000" color="#000" textLength="435.56" lengthAdjust="spacingAndGlyphs">skeletal muscle thin filament assembly</text>
<text x="174.16" y="359.84" font-size="25" fill="#000" color="#000" textLength="307.27" lengthAdjust="spacingAndGlyphs">response to muscle activity</text>
<text x="235.42" y="397.58" font-size="25" fill="#000" color="#000" textLength="247.36" lengthAdjust="spacingAndGlyphs">response to metal ion</text>
<text x="181.62" y="435.32" font-size="25" fill="#000" color="#000" textLength="299.97" lengthAdjust="spacingAndGlyphs">mesenchime development</text>
<text x="133.91" y="473.06" font-size="25" fill="#000" color="#000" textLength="348.88" lengthAdjust="spacingAndGlyphs">regulation of heart contraction</text>
<text x="830.88" y="135.30" font-size="25" fill="#231F20" color="#231F20" textLength="396.09" lengthAdjust="spacingAndGlyphs">extracellular structure organization</text>
<text x="883.20" y="173.04" font-size="25" fill="#000" color="#000" textLength="342.66" lengthAdjust="spacingAndGlyphs">PID ERBB NETWORK PATHWAY</text>
<text x="884.83" y="210.78" font-size="25" fill="#000" color="#000" textLength="341.62" lengthAdjust="spacingAndGlyphs">aminoglycan catabolic process</text>
<text x="928.73" y="248.52" font-size="25" fill="#000" color="#000" textLength="297.06" lengthAdjust="spacingAndGlyphs">blood vessel development</text>
<text x="966.65" y="286.26" font-size="25" fill="#000" color="#000" textLength="260.28" lengthAdjust="spacingAndGlyphs">disease of glycosilation</text>
<text x="875.08" y="324.00" font-size="25" fill="#000" color="#000" textLength="350.71" lengthAdjust="spacingAndGlyphs">connective tissue development</text>
<text x="926.88" y="361.74" font-size="25" fill="#000" color="#000" textLength="300.08" lengthAdjust="spacingAndGlyphs">collagen fibril organization</text>
<text x="981.32" y="399.48" font-size="25" fill="#000" color="#000" textLength="245.13" lengthAdjust="spacingAndGlyphs">tissue morphogenesis</text>
<text x="1006.60" y="437.22" font-size="25" fill="#000" color="#000" textLength="219.85" lengthAdjust="spacingAndGlyphs">endogenous sterols</text>
<text x="864.48" y="474.96" font-size="25" fill="#000" color="#000" textLength="361.98" lengthAdjust="spacingAndGlyphs">NABA MATRISOME ASSOCIATED</text>
<text x="488.09" y="534.50" font-size="25" fill="#000" color="#000" textLength="15.67" lengthAdjust="spacingAndGlyphs">0</text>
<text x="531.92" y="534.50" font-size="25" fill="#000" color="#000" textLength="14.08" lengthAdjust="spacingAndGlyphs">5</text>
<text x="567.34" y="534.50" font-size="25" fill="#000" color="#000" textLength="29.23" lengthAdjust="spacingAndGlyphs">10</text>
<text x="610.63" y="534.50" font-size="25" fill="#000" color="#000" textLength="27.66" lengthAdjust="spacingAndGlyphs">15</text>
<text x="653.52" y="534.50" font-size="25" fill="#000" color="#000" textLength="28.33" lengthAdjust="spacingAndGlyphs">20</text>
<text x="696.33" y="534.50" font-size="25" fill="#000" color="#000" textLength="27.87" lengthAdjust="spacingAndGlyphs">25</text>
<text x="1243.82" y="534.30" font-size="25" fill="#000" color="#000" textLength="15.20" lengthAdjust="spacingAndGlyphs">0</text>
<text x="1317.63" y="534.30" font-size="25" fill="#000" color="#000" textLength="13.50" lengthAdjust="spacingAndGlyphs">4</text>
<text x="1390.75" y="534.30" font-size="25" fill="#000" color="#000" textLength="14.98" lengthAdjust="spacingAndGlyphs">8</text>
<text x="1457.70" y="534.30" font-size="25" fill="#000" color="#000" textLength="28.21" lengthAdjust="spacingAndGlyphs">12</text>
<text x="567.67" y="575.00" font-size="25" fill="#000" color="#000" textLength="43.73" lengthAdjust="spacingAndGlyphs">-log</text>
<text x="610.49" y="584.30" font-size="14.3" fill="#000" color="#000" textLength="16.00" lengthAdjust="spacingAndGlyphs">10</text>
<text x="632.85" y="575.00" font-size="25" fill="#000" color="#000" textLength="80.85" lengthAdjust="spacingAndGlyphs">P value</text>
<text x="1317.47" y="575.00" font-size="25" fill="#000" color="#000" textLength="43.73" lengthAdjust="spacingAndGlyphs">-log</text>
<text x="1360.29" y="584.30" font-size="14.3" fill="#000" color="#000" textLength="16.00" lengthAdjust="spacingAndGlyphs">10</text>
<text x="1382.65" y="575.00" font-size="25" fill="#000" color="#000" textLength="80.85" lengthAdjust="spacingAndGlyphs">P value</text>
<text x="124.32" y="662.60" font-size="25" fill="#000" color="#000" textLength="470.55" lengthAdjust="spacingAndGlyphs">HSPB3-depleted differentiating myoblasts</text>
<text x="921.08" y="662.60" font-size="25" fill="#000" color="#000" textLength="454.65" lengthAdjust="spacingAndGlyphs">HSPB3-overexpressing cycling myoblasts</text>
<text x="256.30" y="707.10" font-size="24.8" fill="#000" color="#000" textLength="31.18" lengthAdjust="spacingAndGlyphs">NS</text>
<text x="330.45" y="707.10" font-size="24.8" fill="#000" color="#000" textLength="152.60" lengthAdjust="spacingAndGlyphs">P value &amp; Log</text>
<text x="482.32" y="714.80" font-size="19.5" fill="#000" color="#000" textLength="10.97" lengthAdjust="spacingAndGlyphs">2</text>
<text x="498.03" y="707.10" font-size="24.8" fill="#000" color="#000" textLength="19.41" lengthAdjust="spacingAndGlyphs">fc</text>
<text x="1053.40" y="707.10" font-size="24.8" fill="#000" color="#000" textLength="31.18" lengthAdjust="spacingAndGlyphs">NS</text>
<text x="1127.55" y="707.10" font-size="24.8" fill="#000" color="#000" textLength="152.60" lengthAdjust="spacingAndGlyphs">P value &amp; Log</text>
<text x="1279.42" y="714.80" font-size="19.5" fill="#000" color="#000" textLength="10.97" lengthAdjust="spacingAndGlyphs">2</text>
<text x="1295.13" y="707.10" font-size="24.8" fill="#000" color="#000" textLength="19.41" lengthAdjust="spacingAndGlyphs">fc</text>
<text transform="translate(91.90,0) rotate(-90)" x="-993.77" y="0" font-size="24.3" fill="#000" color="#000" textLength="48.16" lengthAdjust="spacingAndGlyphs">-Log</text>
<text transform="translate(105.10,0) rotate(-90)" x="-946.41" y="0" font-size="13.5" fill="#000" color="#000" textLength="16.10" lengthAdjust="spacingAndGlyphs">10</text>
<text transform="translate(91.90,0) rotate(-90)" x="-924.35" y="0" font-size="24.3" fill="#000" color="#000" textLength="80.95" lengthAdjust="spacingAndGlyphs">P value</text>
<text transform="translate(936.70,0) rotate(-90)" x="-995.77" y="0" font-size="24.3" fill="#000" color="#000" textLength="48.16" lengthAdjust="spacingAndGlyphs">-Log</text>
<text transform="translate(949.90,0) rotate(-90)" x="-948.41" y="0" font-size="13.5" fill="#000" color="#000" textLength="16.10" lengthAdjust="spacingAndGlyphs">10</text>
<text transform="translate(936.70,0) rotate(-90)" x="-926.35" y="0" font-size="24.3" fill="#000" color="#000" textLength="80.95" lengthAdjust="spacingAndGlyphs">P value</text>
<text x="105.74" y="770.70" font-size="24.5" fill="#000" color="#000" textLength="27.68" lengthAdjust="spacingAndGlyphs">20</text>
<text x="105.55" y="846.30" font-size="24.5" fill="#000" color="#000" textLength="27.33" lengthAdjust="spacingAndGlyphs">15</text>
<text x="105.17" y="922.20" font-size="24.5" fill="#000" color="#000" textLength="28.79" lengthAdjust="spacingAndGlyphs">10</text>
<text x="119.54" y="998.00" font-size="24.5" fill="#000" color="#000" textLength="13.75" lengthAdjust="spacingAndGlyphs">5</text>
<text x="118.58" y="1073.90" font-size="24.5" fill="#000" color="#000" textLength="15.78" lengthAdjust="spacingAndGlyphs">0</text>
<text x="949.82" y="769.10" font-size="24.5" fill="#000" color="#000" textLength="27.98" lengthAdjust="spacingAndGlyphs">15</text>
<text x="949.77" y="871.10" font-size="24.5" fill="#000" color="#000" textLength="28.79" lengthAdjust="spacingAndGlyphs">10</text>
<text x="964.15" y="974.30" font-size="24.5" fill="#000" color="#000" textLength="13.63" lengthAdjust="spacingAndGlyphs">5</text>
<text x="963.42" y="1077.40" font-size="24.5" fill="#000" color="#000" textLength="15.20" lengthAdjust="spacingAndGlyphs">0</text>
<text x="157.80" y="1112.80" font-size="24.5" fill="#000" color="#000" textLength="27.43" lengthAdjust="spacingAndGlyphs">−4</text>
<text x="278.96" y="1112.80" font-size="24.5" fill="#000" color="#000" textLength="28.54" lengthAdjust="spacingAndGlyphs">−2</text>
<text x="404.92" y="1112.80" font-size="24.5" fill="#000" color="#000" textLength="15.20" lengthAdjust="spacingAndGlyphs">0</text>
<text x="527.34" y="1112.80" font-size="24.5" fill="#000" color="#000" textLength="13.86" lengthAdjust="spacingAndGlyphs">2</text>
<text x="1052.20" y="1116.30" font-size="24.5" fill="#000" color="#000" textLength="27.57" lengthAdjust="spacingAndGlyphs">−2</text>
<text x="1178.44" y="1116.30" font-size="24.5" fill="#000" color="#000" textLength="13.56" lengthAdjust="spacingAndGlyphs">0</text>
<text x="1297.34" y="1116.30" font-size="24.5" fill="#000" color="#000" textLength="13.86" lengthAdjust="spacingAndGlyphs">2</text>
<text x="301.50" y="1147.90" font-size="23" fill="#000" color="#000" textLength="38.40" lengthAdjust="spacingAndGlyphs">Log</text>
<text x="340.42" y="1154.00" font-size="23" fill="#000" color="#000" textLength="14.09" lengthAdjust="spacingAndGlyphs">2</text>
<text x="361.30" y="1147.90" font-size="23" fill="#000" color="#000" textLength="130.19" lengthAdjust="spacingAndGlyphs">fold change</text>
<text x="1088.05" y="1151.40" font-size="23" fill="#000" color="#000" textLength="39.81" lengthAdjust="spacingAndGlyphs">Log</text>
<text x="1126.81" y="1157.60" font-size="23" fill="#000" color="#000" textLength="14.21" lengthAdjust="spacingAndGlyphs">2</text>
<text x="1147.30" y="1151.40" font-size="23" fill="#000" color="#000" textLength="130.69" lengthAdjust="spacingAndGlyphs">fold change</text>
<text x="222.08" y="846.60" font-size="24" fill="#000" color="#000" textLength="73.92" lengthAdjust="spacingAndGlyphs">MYOG</text>
<text x="153.83" y="891.70" font-size="24" fill="#000" color="#000" textLength="74.10" lengthAdjust="spacingAndGlyphs">ACTA1</text>
<text x="241.27" y="962.70" font-size="24" fill="#000" color="#000" textLength="44.07" lengthAdjust="spacingAndGlyphs">DES</text>
<text x="1239.55" y="882.60" font-size="24" fill="#000" color="#000" textLength="53.29" lengthAdjust="spacingAndGlyphs">LUM</text>
<text x="1145.86" y="928.20" font-size="24" fill="#000" color="#000" textLength="94.67" lengthAdjust="spacingAndGlyphs">NOTCH3</text>
<text x="1169.39" y="955.50" font-size="24" fill="#000" color="#000" textLength="47.37" lengthAdjust="spacingAndGlyphs">SVIL</text>
<text x="1250.02" y="950.30" font-size="24" fill="#000" color="#000" textLength="84.64" lengthAdjust="spacingAndGlyphs">CADM1</text>
<text x="84.80" y="1264.70" font-size="25" fill="#000" color="#000" textLength="61.95" lengthAdjust="spacingAndGlyphs">GENE</text>
<text x="213.05" y="1264.70" font-size="25" fill="#000" color="#000" textLength="127.21" lengthAdjust="spacingAndGlyphs">P (RNAseq)</text>
<text x="378.15" y="1264.40" font-size="25" fill="#000" color="#000" textLength="178.40" lengthAdjust="spacingAndGlyphs">qPCR validation</text>
<text x="378.70" y="1296.80" font-size="25" fill="#000" color="#000" textLength="130.49" lengthAdjust="spacingAndGlyphs">fold change</text>
<text x="85.15" y="1343.00" font-size="25" fill="#000" color="#000" textLength="71.46" lengthAdjust="spacingAndGlyphs">ACTA1</text>
<text x="84.28" y="1377.70" font-size="25" fill="#000" color="#000" textLength="43.75" lengthAdjust="spacingAndGlyphs">DES</text>
<text x="219.48" y="1343.00" font-size="25" fill="#000" color="#000" textLength="96.59" lengthAdjust="spacingAndGlyphs">1.16E-11</text>
<text x="220.27" y="1377.70" font-size="25" fill="#000" color="#000" textLength="96.39" lengthAdjust="spacingAndGlyphs">5.10E-05</text>
<text x="476.20" y="1343.00" font-size="25" fill="#000" color="#000" textLength="35.22" lengthAdjust="spacingAndGlyphs">0.2</text>
<text x="476.22" y="1377.70" font-size="25" fill="#000" color="#000" textLength="34.31" lengthAdjust="spacingAndGlyphs">0.4</text>
<text x="574.14" y="1343.00" font-size="25" fill="#000" color="#000" textLength="78.43" lengthAdjust="spacingAndGlyphs">DOWN</text>
<text x="574.14" y="1377.70" font-size="25" fill="#000" color="#000" textLength="78.43" lengthAdjust="spacingAndGlyphs">DOWN</text>
<text x="873.71" y="1264.50" font-size="25" fill="#000" color="#000" textLength="61.85" lengthAdjust="spacingAndGlyphs">GENE</text>
<text x="1002.06" y="1264.50" font-size="25" fill="#000" color="#000" textLength="127.31" lengthAdjust="spacingAndGlyphs">p (RNAseq)</text>
<text x="1167.35" y="1264.30" font-size="25" fill="#000" color="#000" textLength="177.69" lengthAdjust="spacingAndGlyphs">qPCR validation</text>
<text x="1167.90" y="1296.80" font-size="25" fill="#000" color="#000" textLength="130.19" lengthAdjust="spacingAndGlyphs">fold change</text>
<text x="872.96" y="1342.80" font-size="25" fill="#000" color="#000" textLength="53.08" lengthAdjust="spacingAndGlyphs">LUM</text>
<text x="1008.89" y="1342.80" font-size="25" fill="#000" color="#000" textLength="96.99" lengthAdjust="spacingAndGlyphs">1.35E-09</text>
<text x="1265.82" y="1342.80" font-size="25" fill="#000" color="#000" textLength="34.78" lengthAdjust="spacingAndGlyphs">4.2</text>
<text x="1363.40" y="1342.80" font-size="25" fill="#000" color="#000" textLength="32.29" lengthAdjust="spacingAndGlyphs">UP</text>
<text x="873.62" y="1377.85" font-size="25" fill="#000" color="#000" textLength="85.05" lengthAdjust="spacingAndGlyphs">CAMD1</text>
<text x="1008.90" y="1377.85" font-size="25" fill="#000" color="#000" textLength="96.34" lengthAdjust="spacingAndGlyphs">1.01E-07</text>
<text x="1265.33" y="1377.85" font-size="25" fill="#000" color="#000" textLength="35.05" lengthAdjust="spacingAndGlyphs">2.8</text>
<text x="1363.40" y="1377.85" font-size="25" fill="#000" color="#000" textLength="32.29" lengthAdjust="spacingAndGlyphs">UP</text>
<text x="873.06" y="1412.90" font-size="25" fill="#000" color="#000" textLength="94.57" lengthAdjust="spacingAndGlyphs">NOTCH3</text>
<text x="1010.89" y="1412.90" font-size="25" fill="#000" color="#000" textLength="97.06" lengthAdjust="spacingAndGlyphs">1.91E-07</text>
<text x="1265.27" y="1412.90" font-size="25" fill="#000" color="#000" textLength="35.37" lengthAdjust="spacingAndGlyphs">6.0</text>
<text x="1363.40" y="1412.90" font-size="25" fill="#000" color="#000" textLength="32.29" lengthAdjust="spacingAndGlyphs">UP</text>
<text x="873.98" y="1447.95" font-size="25" fill="#000" color="#000" textLength="47.78" lengthAdjust="spacingAndGlyphs">SVIL</text>
<text x="1015.65" y="1447.95" font-size="25" fill="#000" color="#000" textLength="96.61" lengthAdjust="spacingAndGlyphs">3.02E-06</text>
<text x="1265.40" y="1447.95" font-size="25" fill="#000" color="#000" textLength="35.24" lengthAdjust="spacingAndGlyphs">8.0</text>
<text x="1363.40" y="1447.95" font-size="25" fill="#000" color="#000" textLength="32.29" lengthAdjust="spacingAndGlyphs">UP</text>
<text x="872.93" y="1483.00" font-size="25" fill="#000" color="#000" textLength="56.97" lengthAdjust="spacingAndGlyphs">NID2</text>
<text x="1015.31" y="1483.00" font-size="25" fill="#000" color="#000" textLength="96.15" lengthAdjust="spacingAndGlyphs">1.02E-05</text>
<text x="1265.27" y="1483.00" font-size="25" fill="#000" color="#000" textLength="35.37" lengthAdjust="spacingAndGlyphs">6.0</text>
<text x="1363.40" y="1483.00" font-size="25" fill="#000" color="#000" textLength="32.29" lengthAdjust="spacingAndGlyphs">UP</text>
<text x="873.05" y="1518.05" font-size="25" fill="#000" color="#000" textLength="50.21" lengthAdjust="spacingAndGlyphs">DCN</text>
<text x="1015.79" y="1518.05" font-size="25" fill="#000" color="#000" textLength="95.67" lengthAdjust="spacingAndGlyphs">7.13E-05</text>
<text x="1265.62" y="1518.05" font-size="25" fill="#000" color="#000" textLength="35.01" lengthAdjust="spacingAndGlyphs">3.0</text>
<text x="1363.40" y="1518.05" font-size="25" fill="#000" color="#000" textLength="32.29" lengthAdjust="spacingAndGlyphs">UP</text></g></svg></body></html>
